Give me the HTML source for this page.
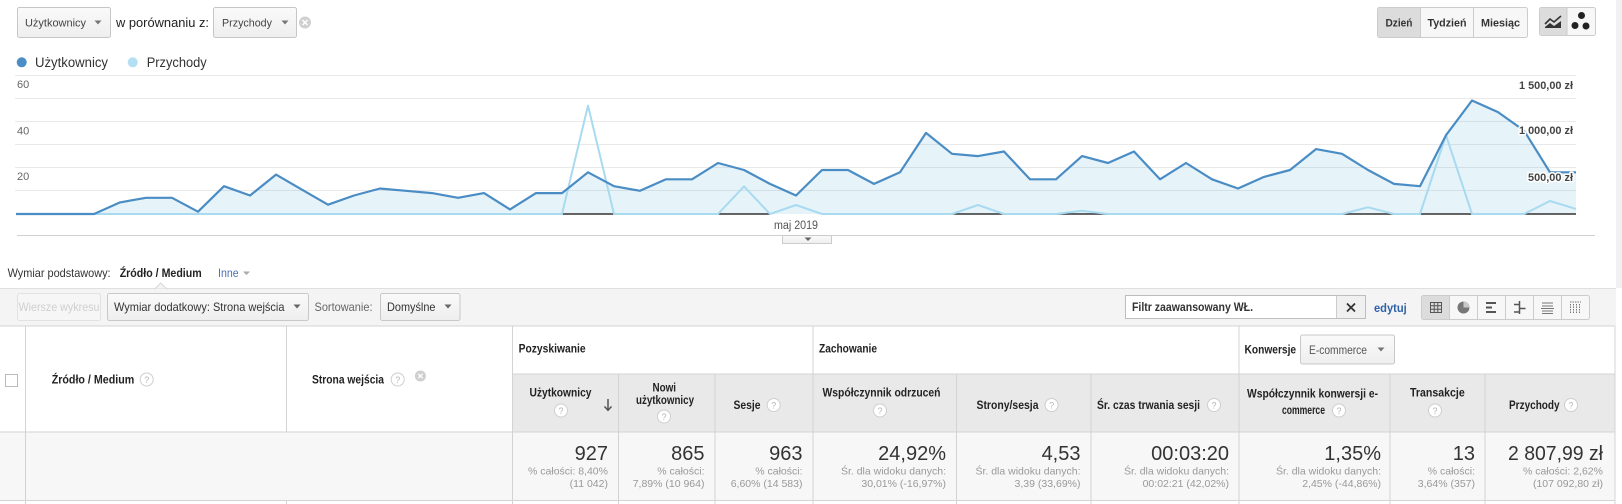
<!DOCTYPE html>
<html><head><meta charset="utf-8">
<style>
html,body{margin:0;padding:0;background:#fff;}
svg{display:block;font-family:"Liberation Sans",Arial,sans-serif;}
</style></head><body>
<svg width="1622" height="504" viewBox="0 0 1622 504" xmlns="http://www.w3.org/2000/svg">
<defs>
<linearGradient id="btn" x1="0" y1="0" x2="0" y2="1"><stop offset="0" stop-color="#fafafa"/><stop offset="1" stop-color="#eeeeee"/></linearGradient>
</defs>
<rect width="1622" height="504" fill="#fff"/>
<rect x="1616" y="0" width="6" height="288" fill="#f1f1f1"/>

<!-- top-left controls -->
<rect x="17.5" y="7.5" width="93" height="30" rx="2" fill="url(#btn)" stroke="#c6c6c6"/>
<text x="25" y="26.5" font-size="11" fill="#444" textLength="61" lengthAdjust="spacingAndGlyphs">Użytkownicy</text>
<path d="M94.5 20.5h7l-3.5 4z" fill="#777"/>
<text x="116" y="27" font-size="13" fill="#222" textLength="93" lengthAdjust="spacingAndGlyphs">w porównaniu z:</text>
<rect x="213.5" y="7.5" width="83" height="30" rx="2" fill="url(#btn)" stroke="#c6c6c6"/>
<text x="222" y="26.5" font-size="11" fill="#444" textLength="50" lengthAdjust="spacingAndGlyphs">Przychody</text>
<path d="M281.5 20.5h7l-3.5 4z" fill="#777"/>
<circle cx="305" cy="22.5" r="6" fill="#d0d0d0"/>
<path d="M302.5 20l5 5M307.5 20l-5 5" stroke="#fff" stroke-width="1.5"/>

<!-- top-right buttons -->
<rect x="1377.5" y="7.5" width="150" height="30" rx="2" fill="#f7f7f7" stroke="#ccc"/>
<rect x="1378" y="8" width="42.5" height="29" fill="#dcdcdc"/>
<line x1="1420.5" y1="7.5" x2="1420.5" y2="37.5" stroke="#ccc"/>
<line x1="1473.5" y1="7.5" x2="1473.5" y2="37.5" stroke="#ccc"/>
<text x="1399" y="26.5" text-anchor="middle" font-size="11" font-weight="bold" fill="#333" textLength="27" lengthAdjust="spacingAndGlyphs">Dzień</text>
<text x="1447" y="26.5" text-anchor="middle" font-size="11" font-weight="bold" fill="#333" textLength="39" lengthAdjust="spacingAndGlyphs">Tydzień</text>
<text x="1500.5" y="26.5" text-anchor="middle" font-size="11" font-weight="bold" fill="#333" textLength="39" lengthAdjust="spacingAndGlyphs">Miesiąc</text>
<rect x="1539.5" y="7.5" width="56" height="28" rx="2" fill="#f7f7f7" stroke="#ccc"/>
<rect x="1540" y="8" width="27" height="27" fill="#dcdcdc"/>
<line x1="1567" y1="7.5" x2="1567" y2="35.5" stroke="#ccc"/>
<polyline points="1545,24 1550,19 1554,22 1561,16" fill="none" stroke="#333" stroke-width="1.6"/>
<polygon points="1545,28 1545,27 1550,23 1554,26 1561,21 1561,28" fill="#333"/>
<circle cx="1581.5" cy="15.5" r="3.5" fill="#222"/>
<circle cx="1575" cy="25.5" r="3.5" fill="#222"/>
<circle cx="1586" cy="26" r="3.5" fill="#222"/>

<!-- legend -->
<circle cx="21.7" cy="62.3" r="5" fill="#4b8dc6"/>
<text x="35" y="67" font-size="13.5" fill="#333" textLength="73" lengthAdjust="spacingAndGlyphs">Użytkownicy</text>
<circle cx="132.7" cy="62.3" r="5" fill="#b4dff2"/>
<text x="146.7" y="67" font-size="13.5" fill="#333" textLength="60" lengthAdjust="spacingAndGlyphs">Przychody</text>

<!-- gridlines -->
<g stroke="#e9e9e9" stroke-width="1">
<line x1="15" y1="75.5" x2="1576" y2="75.5"/>
<line x1="15" y1="98.5" x2="1576" y2="98.5"/>
<line x1="15" y1="121.5" x2="1576" y2="121.5"/>
<line x1="15" y1="144.5" x2="1576" y2="144.5"/>
<line x1="15" y1="167.5" x2="1576" y2="167.5"/>
<line x1="15" y1="190.5" x2="1576" y2="190.5"/>
</g>

<!-- area fill -->
<polygon fill="#058dc7" fill-opacity="0.1" points="16,214 42,214 68,214 94,214 120,202.4 146,197.8 172,197.8 198,211.7 224,186.2 250,195.5 276,174.6 302,189.7 328,204.7 354,195.5 380,188.5 406,190.8 432,193.1 458,197.8 484,193.1 510,209.4 536,193.1 562,193.1 588,172.3 614,186.2 640,190.8 666,179.3 692,179.3 718,163 744,170 770,183.9 796,195.5 822,170 848,170 874,183.9 900,172.3 926,132.9 952,153.8 978,156.1 1004,151.5 1030,179.3 1056,179.3 1082,156.1 1108,163 1134,151.5 1160,179.3 1186,163 1212,179.3 1238,188.5 1264,176.9 1290,170 1316,149.1 1342,153.8 1368,170 1394,183.9 1420,186.2 1446,135.2 1472,100.5 1498,112.1 1524,130.6 1550,172.3 1576,172.3 1576,214"/>

<!-- dark baseline segments -->
<g stroke="#333" stroke-width="1.6">
<line x1="562" y1="214" x2="614" y2="214"/>
<line x1="718" y1="214" x2="770" y2="214"/>
<line x1="952" y1="214" x2="1004" y2="214"/>
<line x1="1056" y1="214" x2="1108" y2="214"/>
<line x1="1342" y1="214" x2="1394" y2="214"/>
<line x1="1420" y1="214" x2="1472" y2="214"/>
<line x1="1524" y1="214" x2="1576" y2="214"/>
</g>

<!-- Przychody line -->
<polyline fill="none" stroke="#a8daf0" stroke-width="2" stroke-linejoin="round" points="16,214 562,214 588,105.6 614,214 718,214 744,186.4 770,214 796,205 822,214 952,214 978,205 1004,214 1056,214 1082,210.8 1108,214 1342,214 1368,207.3 1394,214 1420,214 1446,135.2 1472,214 1524,214 1550,201 1576,208.9"/>

<!-- Użytkownicy line -->
<polyline fill="none" stroke="#4a8cc4" stroke-width="2.2" stroke-linejoin="round" points="16,214 42,214 68,214 94,214 120,202.4 146,197.8 172,197.8 198,211.7 224,186.2 250,195.5 276,174.6 302,189.7 328,204.7 354,195.5 380,188.5 406,190.8 432,193.1 458,197.8 484,193.1 510,209.4 536,193.1 562,193.1 588,172.3 614,186.2 640,190.8 666,179.3 692,179.3 718,163 744,170 770,183.9 796,195.5 822,170 848,170 874,183.9 900,172.3 926,132.9 952,153.8 978,156.1 1004,151.5 1030,179.3 1056,179.3 1082,156.1 1108,163 1134,151.5 1160,179.3 1186,163 1212,179.3 1238,188.5 1264,176.9 1290,170 1316,149.1 1342,153.8 1368,170 1394,183.9 1420,186.2 1446,135.2 1472,100.5 1498,112.1 1524,130.6 1550,172.3 1576,172.3"/>

<!-- axis labels -->
<g font-size="11" fill="#666">
<text x="17" y="88">60</text>
<text x="17" y="134.5">40</text>
<text x="17" y="180">20</text>
</g>
<g font-size="11" font-weight="bold" fill="#444" text-anchor="end" stroke="#fff" stroke-width="3" paint-order="stroke" stroke-linejoin="round">
<text x="1573" y="89" textLength="54" lengthAdjust="spacingAndGlyphs">1 500,00 zł</text>
<text x="1573" y="134" textLength="54" lengthAdjust="spacingAndGlyphs">1 000,00 zł</text>
<text x="1573" y="181" textLength="45" lengthAdjust="spacingAndGlyphs">500,00 zł</text>
</g>

<text x="796" y="229" text-anchor="middle" font-size="11.5" fill="#555" textLength="44" lengthAdjust="spacingAndGlyphs">maj 2019</text>
<line x1="17" y1="235.5" x2="1595" y2="235.5" stroke="#d0d0d0"/>
<rect x="782.5" y="235.5" width="49" height="8" fill="url(#btn)" stroke="#ccc"/>
<path d="M804.5 237.5h7l-3.5 3.5z" fill="#666"/>

<!-- primary dimension -->
<text x="7.6" y="277" font-size="12" fill="#333" textLength="103" lengthAdjust="spacingAndGlyphs">Wymiar podstawowy:</text>
<text x="119.7" y="277" font-size="12" font-weight="bold" fill="#222" textLength="82" lengthAdjust="spacingAndGlyphs">Źródło / Medium</text>
<text x="218" y="277" font-size="12" fill="#4a70b8" textLength="20.6" lengthAdjust="spacingAndGlyphs">Inne</text>
<path d="M243 271.5h7l-3.5 3.5z" fill="#aaa"/>

<!-- toolbar band -->
<rect x="0" y="288" width="1616" height="38" fill="#f4f4f4"/>
<line x1="0" y1="288.5" x2="1616" y2="288.5" stroke="#e0e0e0"/>
<polygon points="155,288.6 160.7,283 166.4,288.6" fill="#f4f4f4" stroke="#d8d8d8"/>
<rect x="155.8" y="288.6" width="9.8" height="1.2" fill="#f4f4f4"/>

<rect x="17.5" y="293.5" width="83" height="27" rx="2" fill="#f6f6f6" stroke="#e2e2e2"/>
<text x="18.5" y="311" font-size="12" fill="#cfcfcf" textLength="81" lengthAdjust="spacingAndGlyphs">Wiersze wykresu</text>
<rect x="107.5" y="293.5" width="201" height="27" rx="2" fill="url(#btn)" stroke="#c8c8c8"/>
<text x="114" y="311" font-size="12" fill="#333" textLength="170.5" lengthAdjust="spacingAndGlyphs">Wymiar dodatkowy: Strona wejścia</text>
<path d="M293.5 304.5h7l-3.5 4z" fill="#666"/>
<text x="314.5" y="311" font-size="12" fill="#666" textLength="58" lengthAdjust="spacingAndGlyphs">Sortowanie:</text>
<rect x="380.5" y="293.5" width="79.5" height="27" rx="2" fill="url(#btn)" stroke="#c8c8c8"/>
<text x="387" y="311" font-size="12" fill="#333" textLength="48.5" lengthAdjust="spacingAndGlyphs">Domyślne</text>
<path d="M444.5 304.5h7l-3.5 4z" fill="#666"/>

<!-- filter -->
<rect x="1125.5" y="295.5" width="240" height="23" fill="#fff" stroke="#bdbdbd"/>
<rect x="1336.5" y="296" width="28.5" height="22" fill="#f0f0f0"/>
<line x1="1336.5" y1="295.5" x2="1336.5" y2="318.5" stroke="#ccc"/>
<path d="M1347 303.5l8 8M1355 303.5l-8 8" stroke="#333" stroke-width="1.8"/>
<text x="1132" y="311" font-size="11.5" font-weight="bold" fill="#333" textLength="121" lengthAdjust="spacingAndGlyphs">Filtr zaawansowany WŁ.</text>
<text x="1374" y="312" font-size="12" font-weight="bold" fill="#2f62a8" textLength="32.7" lengthAdjust="spacingAndGlyphs">edytuj</text>

<!-- view icons -->
<rect x="1421.5" y="295.5" width="168" height="24" rx="2" fill="#f7f7f7" stroke="#ccc"/>
<rect x="1422" y="296" width="27.5" height="23" fill="#dcdcdc"/>
<g stroke="#ccc"><line x1="1449.5" y1="295.5" x2="1449.5" y2="319.5"/><line x1="1477.5" y1="295.5" x2="1477.5" y2="319.5"/><line x1="1505.5" y1="295.5" x2="1505.5" y2="319.5"/><line x1="1533.5" y1="295.5" x2="1533.5" y2="319.5"/><line x1="1561.5" y1="295.5" x2="1561.5" y2="319.5"/></g>
<g stroke="#555" fill="none" stroke-width="1">
<rect x="1430.5" y="302.5" width="11" height="10"/>
<path d="M1434.2 302.5v10M1437.8 302.5v10M1430.5 305.8h11M1430.5 309.2h11"/>
</g>
<circle cx="1463.5" cy="307.5" r="6" fill="#777"/>
<path d="M1463.5 307.5V301.5A6 6 0 0 1 1469.5 307.5Z" fill="#c8c8c8"/>
<g fill="#555">
<rect x="1486" y="302" width="10" height="2"/><rect x="1486" y="306.5" width="6" height="2"/><rect x="1486" y="311" width="10" height="2"/>
</g>
<path d="M1519.5 301v13M1514 304.5h5.5M1519.5 308.5h6M1514 312h5.5" stroke="#555" stroke-width="1.5" fill="none"/>
<path d="M1542 303h11M1542 306h11M1541 308.5h13M1542 311h11M1542 313.5h11" stroke="#777" stroke-width="1" fill="none"/>
<path d="M1570 302h11M1570.5 304v9M1573.5 304v9M1576.5 304v9M1579.5 304v9" stroke="#777" stroke-width="1" stroke-dasharray="1.5 1" fill="none"/>

<!-- table backgrounds -->
<rect x="512.5" y="374" width="1102.5" height="58" fill="#e9e9e9"/>
<rect x="0" y="432" width="1615" height="68.5" fill="#f7f7f7"/>

<!-- table lines -->
<g stroke="#d3d3d3" stroke-width="1">
<line x1="0" y1="326" x2="1615" y2="326"/>
<line x1="512.5" y1="374" x2="1615" y2="374"/>
<line x1="0" y1="432" x2="1615" y2="432"/>
<line x1="0" y1="500.5" x2="1615" y2="500.5"/>
<line x1="25.5" y1="326" x2="25.5" y2="504"/>
<line x1="286.5" y1="326" x2="286.5" y2="432"/>
<line x1="286.5" y1="500.5" x2="286.5" y2="504"/>
<line x1="512.5" y1="326" x2="512.5" y2="504"/>
<line x1="813" y1="326" x2="813" y2="504"/>
<line x1="1239" y1="326" x2="1239" y2="504"/>
<line x1="1615" y1="326" x2="1615" y2="504"/>
<line x1="618.5" y1="374" x2="618.5" y2="504"/>
<line x1="715" y1="374" x2="715" y2="504"/>
<line x1="956.5" y1="374" x2="956.5" y2="504"/>
<line x1="1091" y1="374" x2="1091" y2="504"/>
<line x1="1390" y1="374" x2="1390" y2="504"/>
<line x1="1485" y1="374" x2="1485" y2="504"/>
</g>

<rect x="5.5" y="374.5" width="12" height="12" fill="#fff" stroke="#bbb"/>

<!-- header texts -->
<g font-size="12" font-weight="bold" fill="#222">
<text x="51.7" y="383.5" textLength="82.6" lengthAdjust="spacingAndGlyphs">Źródło / Medium</text>
<text x="312" y="383.5" textLength="72" lengthAdjust="spacingAndGlyphs">Strona wejścia</text>
<text x="518.6" y="352.5" textLength="67" lengthAdjust="spacingAndGlyphs">Pozyskiwanie</text>
<text x="819" y="352.5" textLength="58" lengthAdjust="spacingAndGlyphs">Zachowanie</text>
<text x="1244.5" y="353.5" textLength="51.6" lengthAdjust="spacingAndGlyphs">Konwersje</text>
<text x="529.5" y="396.5" textLength="62" lengthAdjust="spacingAndGlyphs">Użytkownicy</text>
<text x="652.5" y="391.5" textLength="23.5" lengthAdjust="spacingAndGlyphs">Nowi</text>
<text x="636" y="404" textLength="58" lengthAdjust="spacingAndGlyphs">użytkownicy</text>
<text x="733.5" y="409" textLength="27" lengthAdjust="spacingAndGlyphs">Sesje</text>
<text x="822.5" y="396.5" textLength="118" lengthAdjust="spacingAndGlyphs">Współczynnik odrzuceń</text>
<text x="976.5" y="409" textLength="62" lengthAdjust="spacingAndGlyphs">Strony/sesja</text>
<text x="1097" y="409" textLength="103" lengthAdjust="spacingAndGlyphs">Śr. czas trwania sesji</text>
<text x="1247" y="397.5" textLength="131" lengthAdjust="spacingAndGlyphs">Współczynnik konwersji e-</text>
<text x="1282" y="414" textLength="43" lengthAdjust="spacingAndGlyphs">commerce</text>
<text x="1410" y="396.5" textLength="54.7" lengthAdjust="spacingAndGlyphs">Transakcje</text>
<text x="1509" y="409" textLength="50.6" lengthAdjust="spacingAndGlyphs">Przychody</text>
</g>

<!-- question circles -->
<g stroke="#cfcfcf" fill="#fff">
<circle cx="146.7" cy="379.5" r="6.5"/>
<circle cx="397.7" cy="379.5" r="6.5"/>
<circle cx="561" cy="410.5" r="6.5"/>
<circle cx="664" cy="416.5" r="6.5"/>
<circle cx="773.7" cy="405" r="6.5"/>
<circle cx="880" cy="410.5" r="6.5"/>
<circle cx="1051.6" cy="405" r="6.5"/>
<circle cx="1214" cy="405" r="6.5"/>
<circle cx="1339" cy="410.5" r="6.5"/>
<circle cx="1435" cy="410.5" r="6.5"/>
<circle cx="1571" cy="405" r="6.5"/>
</g>
<g font-size="9" fill="#b5b5b5" text-anchor="middle">
<text x="146.7" y="382.8">?</text>
<text x="397.7" y="382.8">?</text>
<text x="561" y="413.8">?</text>
<text x="664" y="419.8">?</text>
<text x="773.7" y="408.3">?</text>
<text x="880" y="413.8">?</text>
<text x="1051.6" y="408.3">?</text>
<text x="1214" y="408.3">?</text>
<text x="1339" y="413.8">?</text>
<text x="1435" y="413.8">?</text>
<text x="1571" y="408.3">?</text>
</g>
<circle cx="420.4" cy="376" r="5.5" fill="#cfcfcf"/>
<path d="M418.2 373.8l4.4 4.4M422.6 373.8l-4.4 4.4" stroke="#fff" stroke-width="1.3"/>
<path d="M608 399v11M604.5 406.5l3.5 3.8 3.5-3.8" stroke="#555" stroke-width="1.5" fill="none"/>

<!-- Konwersje dropdown -->
<rect x="1300.5" y="335" width="94" height="29" rx="2" fill="url(#btn)" stroke="#c8c8c8"/>
<text x="1309" y="354" font-size="12" fill="#555" textLength="58" lengthAdjust="spacingAndGlyphs">E-commerce</text>
<path d="M1377.5 347.5h7l-3.5 4z" fill="#777"/>

<!-- totals -->
<g font-size="20" fill="#333" text-anchor="end">
<text x="608" y="460">927</text>
<text x="704.5" y="460">865</text>
<text x="802.5" y="460">963</text>
<text x="946" y="460">24,92%</text>
<text x="1080.5" y="460">4,53</text>
<text x="1229" y="460">00:03:20</text>
<text x="1381" y="460">1,35%</text>
<text x="1475" y="460">13</text>
<text x="1603" y="460" textLength="95" lengthAdjust="spacingAndGlyphs">2 807,99 zł</text>
</g>
<g font-size="10.5" fill="#999" text-anchor="end">
<text x="608" y="474.5">% całości: 8,40%</text>
<text x="608" y="487">(11 042)</text>
<text x="704.5" y="474.5">% całości:</text>
<text x="704.5" y="487">7,89% (10 964)</text>
<text x="802.5" y="474.5">% całości:</text>
<text x="802.5" y="487">6,60% (14 583)</text>
<text x="946" y="474.5">Śr. dla widoku danych:</text>
<text x="946" y="487">30,01% (-16,97%)</text>
<text x="1080.5" y="474.5">Śr. dla widoku danych:</text>
<text x="1080.5" y="487">3,39 (33,69%)</text>
<text x="1229" y="474.5">Śr. dla widoku danych:</text>
<text x="1229" y="487">00:02:21 (42,02%)</text>
<text x="1381" y="474.5">Śr. dla widoku danych:</text>
<text x="1381" y="487">2,45% (-44,86%)</text>
<text x="1475" y="474.5">% całości:</text>
<text x="1475" y="487">3,64% (357)</text>
<text x="1603" y="474.5">% całości: 2,62%</text>
<text x="1603" y="487">(107 092,80 zł)</text>
</g>
</svg>
</body></html>
